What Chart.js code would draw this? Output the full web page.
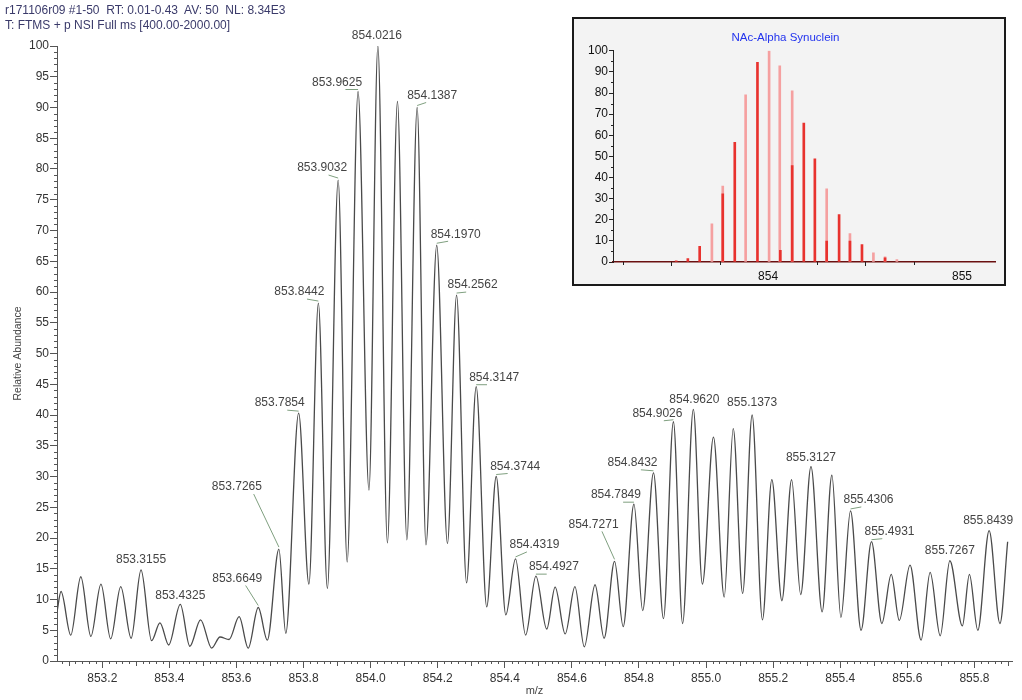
<!DOCTYPE html>
<html>
<head>
<meta charset="utf-8">
<script src="https://cdn.jsdelivr.net/npm/chart.js@4.4.1/dist/chart.umd.min.js"></script>
<style>
body{margin:0;background:#fff;font-family:"Liberation Sans",Arial,sans-serif}
#wrap{position:relative;width:1022px;height:700px}
.hdr{position:absolute;left:5px;font-size:12px;color:#3a3a6a;white-space:pre;line-height:14px}
#inset{position:absolute;left:572px;top:17px;width:430px;height:265px;border:2px solid #1a1a1a;background:#f3f3f3}
</style>
</head>
<body>
<div id="wrap">
<canvas id="spectrum" width="1022" height="700"></canvas>
<div class="hdr" style="top:3px">r171106r09 #1-50  RT: 0.01-0.43  AV: 50  NL: 8.34E3</div>
<div class="hdr" style="top:18px">T: FTMS + p NSI Full ms [400.00-2000.00]</div>
<div id="inset"><canvas id="theory" width="430" height="265"></canvas></div>
</div>
<script>
// measured profile: m/z of each apex / valley and its relative abundance
const mz = [
853.065, 853.077, 853.106, 853.136, 853.166, 853.196, 853.225, 853.255, 853.286, 853.3155,
853.347, 853.372, 853.398, 853.4325, 853.461, 853.493, 853.526, 853.551, 853.578, 853.608,
853.635, 853.6649, 853.692, 853.7265, 853.747, 853.7854, 853.816, 853.8442, 853.871, 853.9032,
853.930, 853.9625, 853.995, 854.0216, 854.050, 854.080, 854.108, 854.1387, 854.165, 854.1970,
854.229, 854.2562, 854.286, 854.3147, 854.346, 854.3744, 854.403, 854.4319, 854.462, 854.4927,
854.525, 854.550, 854.580, 854.609, 854.637, 854.669, 854.696, 854.7271, 854.753, 854.7849,
854.811, 854.8432, 854.873, 854.9026, 854.930, 854.9620, 854.989, 855.022, 855.054, 855.081,
855.109, 855.1373, 855.168, 855.196, 855.226, 855.255, 855.282, 855.3127, 855.346, 855.375,
855.402, 855.4306, 855.462, 855.4931, 855.524, 855.552, 855.576, 855.608, 855.641, 855.668,
855.698, 855.7267, 855.764, 855.785, 855.810, 855.8439, 855.876, 855.899
]
const abundance = [
8.0, 11.3, 4.2, 13.7, 4.0, 12.5, 3.6, 12.1, 3.7, 14.8,
3.3, 6.2, 2.6, 9.2, 2.4, 6.7, 2.1, 3.9, 3.5, 7.2,
2.1, 8.7, 3.4, 18.2, 4.5, 40.3, 12.5, 58.2, 11.8, 78.2,
16.1, 92.6, 27.8, 100, 19.2, 91.0, 19.7, 90.0, 18.9, 67.6,
19.1, 59.5, 12.7, 44.6, 8.8, 30.0, 7.5, 16.6, 4.2, 13.8,
5.2, 12.0, 4.4, 12.1, 2.3, 12.4, 3.7, 16.2, 5.6, 25.5,
8.2, 30.6, 6.9, 38.9, 6.1, 40.9, 12.5, 36.4, 10.4, 37.8,
11.0, 40.0, 6.7, 29.5, 9.8, 29.5, 10.8, 31.6, 8.0, 30.2,
7.1, 24.4, 5.0, 19.4, 6.1, 14.1, 6.6, 15.6, 3.4, 14.4,
4.1, 16.3, 5.7, 14.1, 5.0, 21.2, 6.1, 19.4
]

const labeledPeaks = [853.3155, 853.4325, 853.6649, 853.7265, 853.7854, 853.8442, 853.9032, 853.9625,
  854.0216, 854.1387, 854.1970, 854.2562, 854.3147, 854.3744, 854.4319, 854.4927, 854.7271, 854.7849,
  854.8432, 854.9026, 854.9620, 855.1373, 855.3127, 855.4306, 855.4931, 855.7267, 855.8439]

const xTicks = [853.2, 853.4, 853.6, 853.8, 854.0, 854.2, 854.4, 854.6, 854.8, 855.0, 855.2, 855.4, 855.6, 855.8]

// theoretical isotope sticks for the inset
const stickMzRed = [853.526, 853.586, 853.647, 853.766, 853.828, 853.945, 854.063, 854.124,
  854.184, 854.241, 854.302, 854.366, 854.422, 854.484, 854.603]
const stickRed = [0.6, 1.6, 7.4, 32.3, 56.7, 94.5, 5.5, 45.7, 65.8, 48.8, 9.9, 22.5, 9.9, 8.2, 2.0]
const stickMzPink = [853.710, 853.766, 853.884, 854.005, 854.060, 854.124, 854.302, 854.422,
  854.543, 854.603, 854.664]
const stickPink = [18.1, 35.9, 79.2, 100, 92.9, 81.1, 34.6, 13.4, 4.4, 2.5, 1.1]
const insetTicks = [854, 855]
const insetMinor = [853.25, 853.5, 853.75, 854.25, 854.5, 854.75, 855.25]

// label placement (pixel offset of each label from its apex)
const labelOffsets = [[0,-10],[0,-9],[-21,-29],[-42,-62],[-19,-10],[-19,-11],[-16,-12],[-21,-9],
  [-1,-10],[15,-12],[19,-11],[16,-10],[18,-9],[19,-10],[19,-14],[18,-9],[-21,-37],[-18,-9],
  [-21,-10],[-16,-8],[1,-10],[0,-12],[0,-9],[18,-11],[18,-10],[0,-10],[-1,-10]]

const font = "'Liberation Sans', Arial, sans-serif"

const minorTicks = {
  id: "minorTicks",
  afterDraw(chart){
    const {ctx, scales:{x, y}} = chart
    ctx.save()
    ctx.strokeStyle = "#555"
    ctx.lineWidth = 1
    ctx.beginPath()
    for(let k = Math.ceil(x.min*50); k <= Math.floor(x.max*50); k++){
      if(k % 10 === 0) continue
      const px = Math.round(x.getPixelForValue(k/50)) + 0.5
      const len = k % 5 === 0 ? 5 : 3
      ctx.moveTo(px, y.bottom)
      ctx.lineTo(px, y.bottom + len)
    }
    for(let v = 0; v <= 100; v++){
      if(v % 5 === 0) continue
      const py = Math.round(y.getPixelForValue(v)) + 0.5
      ctx.moveTo(x.left - 3, py)
      ctx.lineTo(x.left, py)
    }
    ctx.stroke()
    ctx.restore()
  }
}

const insetMinorTicks = {
  id: "insetMinorTicks",
  afterDraw(chart){
    const {ctx, scales:{x, y}} = chart
    ctx.save()
    ctx.strokeStyle = "#222"
    ctx.lineWidth = 1
    ctx.beginPath()
    insetMinor.forEach(v => {
      const px = Math.round(x.getPixelForValue(v)) + 0.5
      ctx.moveTo(px, y.bottom)
      ctx.lineTo(px, y.bottom + 3)
    })
    for(let v = 5; v < 100; v += 10){
      const py = Math.round(y.getPixelForValue(v)) + 0.5
      ctx.moveTo(x.left - 2, py)
      ctx.lineTo(x.left, py)
    }
    ctx.stroke()
    ctx.restore()
  }
}

const peakLabels = {
  id: "peakLabels",
  afterDatasetsDraw(chart){
    const {ctx, scales:{x, y}} = chart
    ctx.save()
    ctx.font = "12px " + font
    ctx.textAlign = "center"
    ctx.textBaseline = "middle"
    labeledPeaks.forEach((p, i) => {
      const idx = mz.indexOf(p)
      const px = x.getPixelForValue(p)
      const py = y.getPixelForValue(abundance[idx])
      const [dx, dy] = labelOffsets[i]
      const lx = px + dx
      const ly = py + dy
      if(Math.abs(dx) > 8){
        ctx.strokeStyle = "#7f9f7f"
        ctx.lineWidth = 1
        ctx.beginPath()
        ctx.moveTo(lx + 0.4*(px - lx), ly + 7)
        ctx.lineTo(px, py - 2)
        ctx.stroke()
      }
      ctx.fillStyle = "#444"
      ctx.fillText(p.toFixed(4), lx, ly)
    })
    ctx.restore()
  }
}

new Chart(document.getElementById("spectrum"), {
  type: "line",
  data: {
    datasets: [{
      data: mz.map((m, i) => ({x: m, y: abundance[i]})),
      borderColor: "#4a4a4a",
      borderWidth: 1.3,
      pointRadius: 0,
      cubicInterpolationMode: "monotone",
      fill: false
    }]
  },
  options: {
    responsive: false,
    animation: false,
    layout: {padding: {left: 8, top: 46, right: 10, bottom: 0}},
    plugins: {legend: {display: false}, tooltip: {enabled: false}},
    scales: {
      x: {
        type: "linear",
        min: 853.065,
        max: 855.912,
        afterBuildTicks: s => { s.ticks = xTicks.map(v => ({value: v})) },
        afterFit: s => { s.height = 39 },
        border: {color: "#555"},
        grid: {drawOnChartArea: false, tickLength: 7, color: "#555"},
        ticks: {autoSkip: false, maxRotation: 0, padding: 3, color: "#333",
          font: {family: font, size: 12}, callback: v => v.toFixed(1)},
        title: {display: true, text: "m/z", color: "#444", padding: {top: 0, bottom: 2},
          font: {family: font, size: 11}}
      },
      y: {
        min: 0,
        max: 100,
        afterFit: s => { s.width = 49 },
        border: {color: "#555"},
        grid: {drawOnChartArea: false, tickLength: 7, color: "#555"},
        ticks: {stepSize: 5, padding: 1, color: "#333", font: {family: font, size: 12}},
        title: {display: true, text: "Relative Abundance", color: "#444", padding: {top: 4, bottom: 0},
          font: {family: font, size: 10.5}}
      }
    }
  },
  plugins: [minorTicks, peakLabels]
})

new Chart(document.getElementById("theory"), {
  type: "bar",
  data: {
    datasets: [{
      data: stickMzRed.map((m, i) => ({x: m, y: stickRed[i]})),
      backgroundColor: "#e8322e",
      barThickness: 2,
      grouped: false
    },{
      data: stickMzPink.map((m, i) => ({x: m, y: stickPink[i]})),
      backgroundColor: "#f5a0a0",
      barThickness: 2,
      grouped: false
    }]
  },
  options: {
    responsive: false,
    animation: false,
    layout: {padding: {left: 2, right: 9, bottom: 0}},
    plugins: {
      legend: {display: false},
      tooltip: {enabled: false},
      title: {display: true, text: "NAc-Alpha Synuclein", color: "#2233ee",
        padding: {top: 12, bottom: 6}, font: {family: font, size: 11.5, weight: "normal"}}
    },
    scales: {
      x: {
        type: "linear",
        min: 853.2,
        max: 855.17,
        offset: false,
        afterBuildTicks: s => { s.ticks = insetTicks.map(v => ({value: v})) },
        afterFit: s => { s.height = 22 },
        border: {color: "#6a1010", width: 1.5},
        grid: {drawOnChartArea: false, tickLength: 4, color: "#222"},
        ticks: {padding: 3, color: "#111", font: {family: font, size: 12}}
      },
      y: {
        min: 0,
        max: 100,
        afterFit: s => { s.width = 37 },
        border: {color: "#222"},
        grid: {drawOnChartArea: false, tickLength: 4, color: "#222"},
        ticks: {stepSize: 10, padding: 1, color: "#111", font: {family: font, size: 12}}
      }
    }
  },
  plugins: [insetMinorTicks]
})
</script>
</body>
</html>
